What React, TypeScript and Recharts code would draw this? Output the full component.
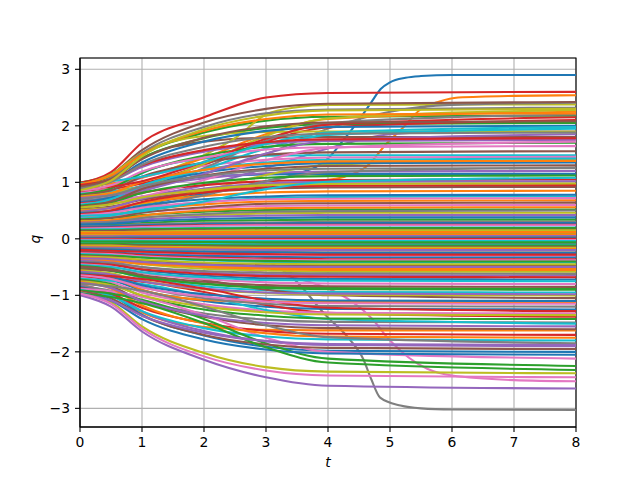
import { LineChart, Line, XAxis, YAxis, CartesianGrid, ReferenceArea } from 'recharts'

// shared time grid for the ordinary trajectories
const T_GRID = [0, 0.5, 1, 2, 3, 4, 8]

// q at T_GRID, one row per trajectory (plot order)
const Q_PATHS: number[][] = [
  [0.995, 1.14, 1.49, 1.88, 2.09, 2.16, 2.18],
  [0.84, 1.03, 1.42, 1.72, 1.79, 1.8, 1.8],
  [0.69, 0.85, 1.16, 1.42, 1.47, 1.48, 1.48],
  [0.54, 0.66, 0.91, 1.1, 1.14, 1.15, 1.15],
  [0.39, 0.43, 0.51, 0.61, 0.66, 0.67, 0.68],
  [0.24, 0.25, 0.28, 0.32, 0.33, 0.34, 0.34],
  [0.09, 0.09, 0.09, 0.1, 0.1, 0.1, 0.1],
  [-0.06, -0.06, -0.07, -0.07, -0.08, -0.08, -0.08],
  [-0.21, -0.22, -0.25, -0.28, -0.29, -0.3, -0.3],
  [-0.36, -0.39, -0.45, -0.53, -0.56, -0.58, -0.58],
  [-0.51, -0.56, -0.69, -0.84, -0.91, -0.94, -0.95],
  [-0.66, -0.73, -0.91, -1.1, -1.2, -1.24, -1.25],
  [-0.81, -0.97, -1.3, -1.56, -1.61, -1.62, -1.62],

  [0.975, 1.1, 1.43, 1.78, 1.96, 2.03, 2.05],
  [0.825, 0.88, 0.98, 1.31, 1.72, 1.97, 2.1],
  [0.675, 0.74, 0.9, 1.07, 1.16, 1.19, 1.2],
  [0.525, 0.57, 0.69, 0.82, 0.89, 0.91, 0.92],
  [0.375, 0.4, 0.47, 0.54, 0.58, 0.59, 0.6],
  [0.225, 0.23, 0.26, 0.28, 0.29, 0.3, 0.3],
  [0.075, 0.075, 0.08, 0.08, 0.08, 0.08, 0.08],
  [-0.075, -0.08, -0.09, -0.09, -0.1, -0.1, -0.1],
  [-0.225, -0.24, -0.27, -0.3, -0.32, -0.33, -0.33],
  [-0.375, -0.39, -0.44, -0.48, -0.51, -0.52, -0.52],
  [-0.525, -0.57, -0.67, -0.79, -0.85, -0.87, -0.88],
  [-0.675, -0.7, -0.76, -0.94, -1.17, -1.31, -1.38],
  [-0.825, -0.95, -1.28, -1.63, -1.81, -1.88, -1.9],

  [0.96, 1.14, 1.57, 2.06, 2.3, 2.39, 2.42],
  [0.81, 0.89, 1.08, 1.29, 1.4, 1.44, 1.45],
  [0.66, 0.72, 0.84, 1.25, 1.74, 2.05, 2.2],
  [0.51, 0.55, 0.62, 0.85, 1.13, 1.31, 1.4],
  [0.36, 0.41, 0.52, 0.65, 0.72, 0.74, 0.75],
  [0.21, 0.22, 0.24, 0.26, 0.27, 0.28, 0.28],
  [0.06, 0.06, 0.065, 0.07, 0.07, 0.07, 0.07],
  [-0.09, -0.09, -0.1, -0.11, -0.12, -0.12, -0.12],
  [-0.24, -0.25, -0.29, -0.33, -0.35, -0.36, -0.36],
  [-0.39, -0.42, -0.5, -0.59, -0.63, -0.64, -0.65],
  [-0.54, -0.56, -0.6, -0.73, -0.9, -1.0, -1.05],
  [-0.69, -0.77, -0.95, -1.16, -1.27, -1.31, -1.32],
  [-0.84, -0.92, -1.11, -1.32, -1.43, -1.47, -1.48],

  [0.945, 1.14, 1.52, 1.82, 1.89, 1.9, 1.9],
  [0.795, 0.84, 0.93, 1.23, 1.6, 1.84, 1.95],
  [0.645, 0.73, 0.94, 1.17, 1.29, 1.34, 1.35],
  [0.495, 0.54, 0.64, 0.76, 0.82, 0.84, 0.85],
  [0.345, 0.37, 0.42, 0.48, 0.51, 0.52, 0.52],
  [0.195, 0.2, 0.22, 0.24, 0.25, 0.25, 0.25],
  [0.045, 0.045, 0.05, 0.05, 0.05, 0.05, 0.05],
  [-0.105, -0.11, -0.12, -0.13, -0.14, -0.14, -0.14],
  [-0.255, -0.27, -0.31, -0.35, -0.37, -0.38, -0.38],
  [-0.405, -0.43, -0.5, -0.57, -0.6, -0.61, -0.62],
  [-0.555, -0.61, -0.74, -0.89, -0.96, -0.99, -1.0],
  [-0.705, -0.74, -0.8, -1.01, -1.26, -1.42, -1.5],
  [-0.855, -0.99, -1.34, -1.71, -1.91, -1.98, -2.0],

  [0.93, 0.98, 1.09, 1.43, 1.85, 2.12, 2.25],
  [0.78, 0.89, 1.17, 1.47, 1.63, 1.68, 1.7],
  [0.63, 0.68, 0.81, 0.95, 1.02, 1.04, 1.05],
  [0.48, 0.55, 0.71, 0.89, 0.98, 1.01, 1.02],
  [0.33, 0.37, 0.46, 0.56, 0.62, 0.63, 0.64],
  [0.18, 0.19, 0.21, 0.23, 0.24, 0.24, 0.24],
  [0.03, 0.03, 0.03, 0.03, 0.03, 0.03, 0.03],
  [-0.12, -0.12, -0.14, -0.15, -0.16, -0.16, -0.16],
  [-0.27, -0.29, -0.33, -0.38, -0.41, -0.42, -0.42],
  [-0.42, -0.46, -0.55, -0.65, -0.7, -0.71, -0.72],
  [-0.57, -0.68, -0.9, -1.08, -1.11, -1.12, -1.12],
  [-0.72, -0.8, -1.01, -1.25, -1.36, -1.41, -1.42],
  [-0.87, -0.97, -1.22, -1.49, -1.63, -1.68, -1.7],

  [0.915, 1.02, 1.27, 1.54, 1.68, 1.73, 1.75],
  [0.765, 0.86, 1.1, 1.35, 1.49, 1.53, 1.55],
  [0.615, 0.66, 0.75, 1.04, 1.39, 1.61, 1.72],
  [0.465, 0.5, 0.56, 0.77, 1.02, 1.18, 1.26],
  [0.315, 0.33, 0.38, 0.42, 0.45, 0.46, 0.46],
  [0.165, 0.17, 0.18, 0.19, 0.2, 0.2, 0.2],
  [0.015, 0.015, 0.02, 0.02, 0.02, 0.02, 0.02],
  [-0.135, -0.14, -0.15, -0.17, -0.18, -0.18, -0.18],
  [-0.285, -0.3, -0.33, -0.37, -0.39, -0.4, -0.4],
  [-0.435, -0.46, -0.54, -0.62, -0.66, -0.67, -0.68],
  [-0.585, -0.63, -0.75, -0.88, -0.95, -0.97, -0.98],
  [-0.735, -0.84, -1.1, -1.38, -1.53, -1.58, -1.6],
  [-0.885, -0.93, -1.03, -1.35, -1.75, -2.0, -2.12],

  [0.9, 1.08, 1.52, 1.98, 2.22, 2.29, 2.32],
  [0.75, 0.81, 0.93, 1.33, 1.82, 2.13, 2.28],
  [0.6, 0.7, 0.94, 1.22, 1.35, 1.4, 1.42],
  [0.45, 0.49, 0.59, 0.7, 0.75, 0.77, 0.78],
  [0.3, 0.33, 0.41, 0.5, 0.54, 0.55, 0.56],
  [0.15, 0.15, 0.17, 0.18, 0.19, 0.19, 0.19],
  [0, 0, 0, 0, 0, 0, 0],
  [-0.15, -0.16, -0.17, -0.19, -0.2, -0.2, -0.2],
  [-0.3, -0.32, -0.38, -0.44, -0.47, -0.48, -0.48],
  [-0.45, -0.49, -0.6, -0.71, -0.77, -0.79, -0.8],
  [-0.6, -0.67, -0.85, -1.05, -1.15, -1.19, -1.2],
  [-0.75, -0.82, -1.0, -1.2, -1.3, -1.34, -1.35],
  [-0.9, -1.01, -1.28, -1.58, -1.73, -1.78, -1.8],

  [0.885, 1.02, 1.35, 1.72, 1.91, 1.98, 2.0],
  [0.735, 0.81, 1.01, 1.22, 1.33, 1.37, 1.38],
  [0.585, 0.65, 0.81, 0.99, 1.08, 1.11, 1.12],
  [0.435, 0.5, 0.65, 0.82, 0.91, 0.94, 0.95],
  [0.285, 0.3, 0.34, 0.39, 0.41, 0.42, 0.42],
  [0.135, 0.14, 0.15, 0.15, 0.16, 0.16, 0.16],
  [-0.015, -0.015, -0.02, -0.02, -0.02, -0.02, -0.02],
  [-0.165, -0.17, -0.2, -0.22, -0.23, -0.24, -0.24],
  [-0.315, -0.33, -0.37, -0.42, -0.44, -0.45, -0.45],
  [-0.465, -0.5, -0.59, -0.68, -0.73, -0.74, -0.75],
  [-0.615, -0.67, -0.82, -0.98, -1.06, -1.09, -1.1],
  [-0.765, -0.88, -1.18, -1.5, -1.67, -1.73, -1.75],
  [-0.915, -0.97, -1.08, -1.42, -1.85, -2.12, -2.25],

  [0.87, 0.92, 1.02, 1.36, 1.77, 2.02, 2.15],
  [0.72, 0.77, 0.86, 1.15, 1.51, 1.74, 1.85],
  [0.57, 0.66, 0.88, 1.12, 1.24, 1.29, 1.3],
  [0.42, 0.46, 0.55, 0.65, 0.7, 0.71, 0.72],
  [0.27, 0.3, 0.37, 0.44, 0.48, 0.49, 0.5],
  [0.12, 0.12, 0.13, 0.14, 0.15, 0.15, 0.15],
  [-0.03, -0.03, -0.035, -0.04, -0.04, -0.04, -0.04],
  [-0.18, -0.19, -0.21, -0.23, -0.24, -0.25, -0.25],
  [-0.33, -0.36, -0.42, -0.5, -0.53, -0.55, -0.55],
  [-0.48, -0.53, -0.66, -0.8, -0.87, -0.89, -0.9],
  [-0.63, -0.66, -0.71, -0.88, -1.09, -1.22, -1.28],
  [-0.78, -0.87, -1.1, -1.36, -1.49, -1.53, -1.55],
  [-0.93, -1.05, -1.36, -1.7, -1.87, -1.93, -1.95],

  [0.855, 0.95, 1.19, 1.44, 1.58, 1.62, 1.64],
  [0.705, 0.77, 0.93, 1.11, 1.21, 1.24, 1.25],
  [0.555, 0.61, 0.73, 0.87, 0.95, 0.97, 0.98],
  [0.405, 0.43, 0.49, 0.66, 0.88, 1.01, 1.08],
  [0.255, 0.27, 0.31, 0.35, 0.37, 0.38, 0.38],
  [0.105, 0.11, 0.11, 0.12, 0.12, 0.12, 0.12],
  [-0.045, -0.047, -0.05, -0.055, -0.06, -0.06, -0.06],
  [-0.195, -0.21, -0.23, -0.26, -0.27, -0.28, -0.28],
  [-0.345, -0.36, -0.41, -0.46, -0.49, -0.5, -0.5],
  [-0.495, -0.54, -0.64, -0.76, -0.82, -0.84, -0.85],
  [-0.645, -0.71, -0.86, -1.02, -1.11, -1.14, -1.15],
  [-0.795, -0.84, -0.92, -1.2, -1.53, -1.74, -1.85],
  [-0.945, -1.12, -1.55, -2.02, -2.27, -2.35, -2.38],

  [0.98, 1.02, 1.1, 1.36, 1.68, 1.88, 1.98],
  [-0.96, -1.09, -1.42, -1.78, -1.96, -2.03, -2.05],
  [0.965, 1.12, 1.49, 1.91, 2.12, 2.2, 2.22],
  [-0.975, -1.03, -1.14, -1.49, -1.92, -2.19, -2.32],
  [0.95, 1.05, 1.3, 1.57, 1.71, 1.76, 1.78],
  [-0.985, -1.09, -1.36, -1.66, -1.81, -1.86, -1.88],
  [0.92, 1.06, 1.41, 1.79, 1.99, 2.06, 2.08],
  [-0.97, -1.15, -1.59, -2.08, -2.33, -2.42, -2.45],
  [0.89, 1.01, 1.31, 1.63, 1.8, 1.86, 1.88],
  [0.86, 1.03, 1.46, 1.94, 2.18, 2.27, 2.3],
]

// trajectories that switch late, sampled on their own times
const BLUE_T = [0, 1, 2, 3, 3.5, 4, 4.25, 4.5, 4.7, 4.85, 5, 5.25, 5.5, 6, 8]
const BLUE_Q = [0.5, 0.62, 0.8, 1.02, 1.15, 1.42, 1.75, 2.1, 2.42, 2.65, 2.77, 2.85, 2.88, 2.9, 2.9]

const ORANGE_T = [0, 1, 2, 3, 3.8, 4.27, 4.62, 4.95, 5.22, 5.48, 5.8, 6.1, 7, 8]
const ORANGE_Q = [0.55, 0.7, 0.85, 0.95, 1.02, 1.1, 1.28, 1.69, 1.98, 2.28, 2.43, 2.5, 2.53, 2.54]

const RED_TOP_Q = [0.99, 1.18, 1.7, 2.15, 2.5, 2.58, 2.6]

const PURPLE_RISE_T = [0, 1, 2, 3, 4, 5, 6, 8]
const PURPLE_RISE_Q = [0.6, 0.75, 0.95, 1.25, 1.6, 1.85, 1.9, 1.9]

const PINK_T = [0, 1, 2, 3, 3.5, 4, 4.4, 4.7, 5, 5.3, 5.6, 6, 7, 8]
const PINK_Q = [-0.35, -0.42, -0.5, -0.6, -0.7, -0.88, -1.12, -1.4, -1.8, -2.1, -2.3, -2.42, -2.5, -2.52]

const GRAY_DOWN_T = [0, 1, 2, 2.9, 3.44, 3.96, 4.35, 4.57, 4.7, 4.84, 5.17, 5.5, 6, 8]
const GRAY_DOWN_Q = [-0.2, -0.25, -0.3, -0.37, -0.7, -1.35, -1.78, -2.13, -2.49, -2.81, -2.95, -3.0, -3.02, -3.03]

const OLIVE_T = [0, 0.5, 1, 1.5, 2, 2.5, 3, 3.5, 4, 8]
const OLIVE_Q = [0.85, 0.95, 1.08, 1.25, 1.48, 1.78, 2.2, 2.33, 2.37, 2.38]

const PURPLE_BOTTOM_Q = [-0.995, -1.2, -1.64, -2.14, -2.45, -2.6, -2.65]

const GRAY_RISE_T = [0, 1, 2, 3, 4, 5, 6, 8]
const GRAY_RISE_Q = [0.72, 0.9, 1.15, 1.5, 1.95, 2.25, 2.37, 2.41]

// plot position of each special trajectory (sets its colour in the cycle)
const SPECIAL: Record<number, [number[], number[]]> = {
  0: [BLUE_T, BLUE_Q],
  1: [ORANGE_T, ORANGE_Q],
  3: [T_GRID, RED_TOP_Q],
  4: [PURPLE_RISE_T, PURPLE_RISE_Q],
  6: [PINK_T, PINK_Q],
  7: [GRAY_DOWN_T, GRAY_DOWN_Q],
  8: [OLIVE_T, OLIVE_Q],
  14: [T_GRID, PURPLE_BOTTOM_Q],
  17: [GRAY_RISE_T, GRAY_RISE_Q],
}

const X_TICKS = [0, 1, 2, 3, 4, 5, 6, 7, 8]
const Y_TICKS = [-3, -2, -1, 0, 1, 2, 3]
const Y_DOMAIN: [number, number] = [-3.33, 3.2]

const TAB10 = ['#1f77b4', '#ff7f0e', '#2ca02c', '#d62728', '#9467bd', '#8c564b', '#e377c2', '#7f7f7f', '#bcbd22', '#17becf']

const series: { t: number; q: number }[][] = []
{
  let k = 0
  const total = Q_PATHS.length + Object.keys(SPECIAL).length
  for (let i = 0; i < total; i++) {
    const [ts, qs] = SPECIAL[i] ?? [T_GRID, Q_PATHS[k++]]
    series.push(ts.map((t, j) => ({ t, q: qs[j] })))
  }
}

const FONT = 'DejaVu Sans'
const fmt = (v: number) => (v < 0 ? `\u2212${Math.abs(v)}` : `${v}`)

export default function App() {
  return (
    <div style={{ position: 'absolute', left: 0, top: 0, width: 640, height: 480, background: '#fff' }}>
      <LineChart width={640} height={480} margin={{ top: 58, right: 64, bottom: 0, left: 0 }}>
        <CartesianGrid stroke="#b0b0b0" strokeWidth={1.1} />
        <XAxis
          type="number"
          dataKey="t"
          domain={[0, 8]}
          ticks={X_TICKS}
          interval={0}
          allowDataOverflow
          height={53}
          tickSize={5}
          tickMargin={5}
          axisLine={{ stroke: '#000', strokeWidth: 1.1 }}
          tickLine={{ stroke: '#000', strokeWidth: 1.1 }}
          tick={{ fill: '#000', fontSize: 13.9, fontFamily: FONT }}
        />
        <YAxis
          type="number"
          domain={Y_DOMAIN}
          ticks={Y_TICKS}
          interval={0}
          allowDataOverflow
          width={80}
          tickSize={5}
          tickMargin={5}
          tickFormatter={fmt}
          axisLine={{ stroke: '#000', strokeWidth: 1.1 }}
          tickLine={{ stroke: '#000', strokeWidth: 1.1 }}
          tick={{ fill: '#000', fontSize: 13.9, fontFamily: FONT }}
        />
        {series.map((d, i) => (
          <Line
            key={i}
            data={d}
            dataKey="q"
            type="monotone"
            stroke={TAB10[i % 10]}
            strokeWidth={2.08}
            dot={false}
            activeDot={false}
            isAnimationActive={false}
          />
        ))}
        <ReferenceArea x1={0} x2={8} y1={Y_DOMAIN[0]} y2={Y_DOMAIN[1]} fill="none" fillOpacity={0} stroke="#000" strokeWidth={1.1} ifOverflow="visible" />
      </LineChart>
      <svg width={640} height={480} style={{ position: 'absolute', left: 0, top: 0, pointerEvents: 'none' }}>
        <text x={328} y={467} textAnchor="middle" fontFamily={FONT} fontStyle="italic" fontSize={13.9}>t</text>
        <text transform="translate(40,239) rotate(-90)" textAnchor="middle" fontFamily={FONT} fontStyle="italic" fontSize={13.9}>q</text>
      </svg>
    </div>
  )
}
